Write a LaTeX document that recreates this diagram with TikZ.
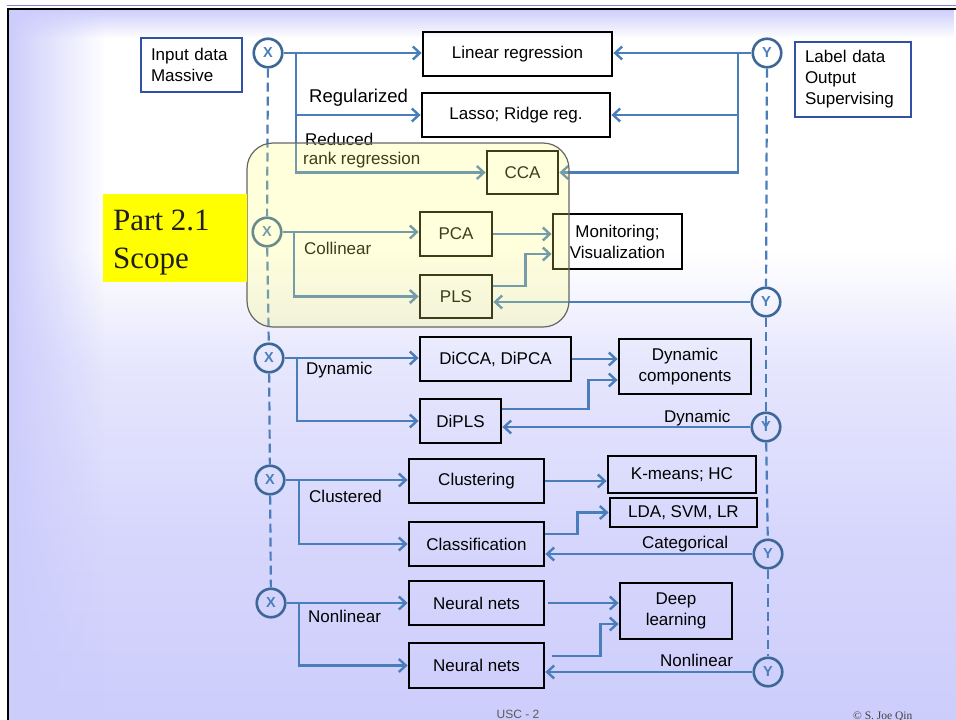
\documentclass[tikz,border=0pt]{standalone}
\usepackage{fontspec}
\setmainfont{Liberation Sans}
\newfontfamily\serifmain{Liberation Serif}
\usetikzlibrary{arrows.meta,fadings}
\definecolor{lav}{RGB}{205,205,252}
\definecolor{lineblue}{RGB}{74,126,187}
\definecolor{circblue}{RGB}{60,103,151}
\definecolor{thinblue}{RGB}{47,82,165}
\definecolor{scopeyellow}{RGB}{255,255,0}
\definecolor{overlayfill}{RGB}{255,255,110}
\definecolor{topline}{RGB}{130,130,215}
\pgfdeclareverticalshading{slidev}{100bp}{color(0bp)=(lav); color(25bp)=(lav); color(37.5bp)=(lav!82!white); color(50bp)=(lav!50!white); color(58bp)=(white); color(100bp)=(white)}
\tikzfading[name=fadeR, left color=transparent!0, right color=transparent!100]
\tikzfading[name=fadeD, top color=transparent!0, bottom color=transparent!100]
\newcommand\myfs{\fontsize{17}{21}\selectfont}
\begin{document}
\begin{tikzpicture}[x=1pt,y=-1pt,
  bx/.style={draw=black, line width=2.8pt, inner sep=0pt, align=center, font=\myfs},
  thinbx/.style={draw=thinblue, line width=1.3pt, inner xsep=10pt, inner ysep=0pt, align=left, font=\myfs},
  ccl/.style={circle, draw=circblue, line width=2.6pt, minimum size=28.5pt, inner sep=0pt, text=lineblue, font=\fontsize{14.5}{14.5}\selectfont\bfseries},
  arr/.style={draw=lineblue, line width=2.4pt, -{Straight Barb[length=7pt,width=13pt]}},
  dsh/.style={draw=lineblue, line width=2.2pt, dash pattern=on 9pt off 5pt},
  lbl/.style={font=\myfs, inner sep=0pt, anchor=base west},
  scopetext/.style={text=black!88, inner sep=0pt, anchor=base west, font=\serifmain\fontsize{31}{38}\selectfont}]
\useasboundingbox (0,0) rectangle (956,720);
\clip (0,0) rectangle (956,720);
% background
\fill[white] (0,0) rectangle (956,720);
\shade[shading=slidev] (9,9) rectangle (956,720);
\fill[lav, path fading=fadeR] (9,9) rectangle (105,720);
\fill[lav, path fading=fadeD] (9,9) rectangle (956,38);
\draw[topline, line width=1.2pt] (7,5.8) -- (956,5.8);
\draw[black, line width=2pt] (8,720) -- (8,8.5) -- (956,8.5);

% side boxes
\node[thinbx, text width=81pt, minimum height=54pt] (inp) at (191.5,65) {Input data\\Massive};
\node[thinbx, text width=96pt, minimum height=75pt] (lab) at (853,79.5) {Label data\\Output\\Supervising};

% circles
\node[ccl] (x1) at (268,53) {X};
\node[ccl] (x2) at (267,232) {X};
\node[ccl] (x3) at (269,358) {X};
\node[ccl] (x4) at (270,480) {X};
\node[ccl] (x5) at (271,603) {X};
\node[ccl] (y1) at (767,53) {Y};
\node[ccl] (y2) at (766,302) {Y};
\node[ccl] (y3) at (766,427) {Y};
\node[ccl] (y4) at (768,554) {Y};
\node[ccl] (y5) at (768,672) {Y};

% dashed spines
\draw[dsh] (x1) -- (x2);
\draw[dsh] (x2) -- (x3);
\draw[dsh] (x3) -- (x4);
\draw[dsh] (x4) -- (x5);
\draw[dsh] (y1) -- (y2);
\draw[dsh] (y2.south) -- ([yshift=2pt]y3.center);
\draw[dsh] (y3) -- (y4);
\draw[dsh] (y4) -- (y5);

% boxes
\node[bx, minimum width=189pt, minimum height=44pt] (lin) at (517.5,54) {Linear regression};
\node[bx, minimum width=188pt, minimum height=44pt] (lasso) at (516,115) {Lasso; Ridge reg.};
\node[bx, minimum width=71pt, minimum height=43pt] (cca) at (522.5,172.5) {CCA};
\node[bx, minimum width=72pt, minimum height=44pt] (pca) at (456,234) {PCA};
\node[bx, minimum width=72pt, minimum height=43pt] (pls) at (456,296.5) {PLS};
\node[bx, minimum width=129pt, minimum height=55pt] (mon) at (617.5,241.5) {Monitoring;\\Visualization};
\node[bx, minimum width=151pt, minimum height=44pt] (dicca) at (495.5,359) {DiCCA, DiPCA};
\node[bx, minimum width=81pt, minimum height=44pt] (dipls) at (460.5,421) {DiPLS};
\node[bx, minimum width=132pt, minimum height=55pt] (dyn) at (685,366.5) {Dynamic\\components};
\node[bx, minimum width=135pt, minimum height=44pt] (clu) at (476.5,481) {Clustering};
\node[bx, minimum width=135pt, minimum height=44pt] (cla) at (476.5,544) {Classification};
\node[bx, minimum width=148pt, minimum height=37pt] (km) at (682,474.5) {K-means; HC};
\node[bx, minimum width=147pt, minimum height=29pt] (lda) at (683.5,512.5) {LDA, SVM, LR};
\node[bx, minimum width=135pt, minimum height=44pt] (nn1) at (476.5,603) {Neural nets};
\node[bx, minimum width=135pt, minimum height=45pt] (nn2) at (476.5,665.5) {Neural nets};
\node[bx, minimum width=112pt, minimum height=56pt] (dl) at (676,611) {Deep\\learning};

% row 1
\draw[arr] (x1.east) -- (lin.west |- x1.east);
\coordinate (t1) at (296,53);
\draw[arr] (t1) |- (lasso.west);
\draw[arr] (t1) |- (cca.west);
\draw[arr] (y1.west) -- (lin.east |- y1.west);
\coordinate (t2) at (738,53);
\draw[arr] (t2) |- (lasso.east);
\draw[arr] (t2) |- (cca.east);

% row 2
\draw[arr] (x2.east) -- (pca.west |- x2.east);
\coordinate (t3) at (294,232);
\draw[arr] (t3) |- (pls.west);
\draw[arr] (pca.east) -- (mon.west |- pca.east);
\draw[arr] ([yshift=10.5pt]pls.east) -- ++(32,0) |- ([yshift=-12.5pt]mon.west);
\draw[arr] (y2.west) -- (pls.east |- y2.west);

% row 3
\draw[arr] (x3.east) -- (dicca.west |- x3.east);
\coordinate (t4) at (297,358);
\draw[arr] (t4) |- (dipls.west);
\draw[arr] (dicca.east) -- (dyn.west |- dicca.east);
\draw[arr] ([yshift=12pt]dipls.east) -- ++(86,0) |- ([yshift=-13.5pt]dyn.west);
\draw[arr] (y3.west) -- (dipls.east |- y3.west);

% row 4
\draw[arr] (x4.east) -- (clu.west |- x4.east);
\coordinate (t5) at (299,480);
\draw[arr] (t5) |- (cla.west);
\draw[arr] (clu.east) -- (km.west |- clu.east);
\draw[arr] ([yshift=10pt]cla.east) -- ++(32,0) |- (lda.west);
\draw[arr] (y4.west) -- (cla.east |- y4.west);

% row 5
\draw[arr] (x5.east) -- (nn1.west |- x5.east);
\coordinate (t6) at (299,603);
\draw[arr] (t6) |- (nn2.west);
\draw[arr] ([xshift=3pt]nn1.east) -- (dl.west |- nn1.east);
\draw[arr] ([xshift=7pt,yshift=9.5pt]nn2.east) -- ++(48,0) |- ([yshift=-13pt]dl.west);
\draw[arr] (y5.west) -- (nn2.east |- y5.west);

% labels
\node[lbl, font=\fontsize{18.5}{20}\selectfont] (lreg) at (309,102) {Regularized};
\node[lbl] (lred) at (305,145) {Reduced};
\node[lbl] (lrank) at (303,164) {rank regression};
\node[lbl] (lcol) at (304,254) {Collinear};
\node[lbl] (ldyn) at (306,374) {Dynamic};
\node[lbl] (ldyn2) at (664,422) {Dynamic};
\node[lbl] (lclu) at (309,502) {Clustered};
\node[lbl] (lcat) at (642,548) {Categorical};
\node[lbl] (lnl) at (308,622) {Nonlinear};
\node[lbl] (lnl2) at (660,666) {Nonlinear};

% scope overlay
\node[draw=black!60, line width=1.2pt, fill=overlayfill, fill opacity=0.24, draw opacity=1, rounded corners=26pt, minimum width=322pt, minimum height=184pt, inner sep=0pt] (ovl) at (408,235) {};
\node[fill=scopeyellow, minimum width=144pt, minimum height=88pt, inner sep=0pt] (scope) at (175,238) {};
\node[scopetext] (scope1) at (113,230) {Part 2.1};
\node[scopetext] (scope2) at (113,268) {Scope};

% footer
\node[font=\fontsize{12}{12}\selectfont, text=black!65, anchor=base, inner sep=0pt] (usc) at (518,718) {USC - 2};
\node[font=\serifmain\fontsize{11.5}{12}\selectfont, text=black!75, anchor=base west, inner sep=0pt] (cpy) at (853,719.5) {© S. Joe Qin};
\end{tikzpicture}
\end{document}
